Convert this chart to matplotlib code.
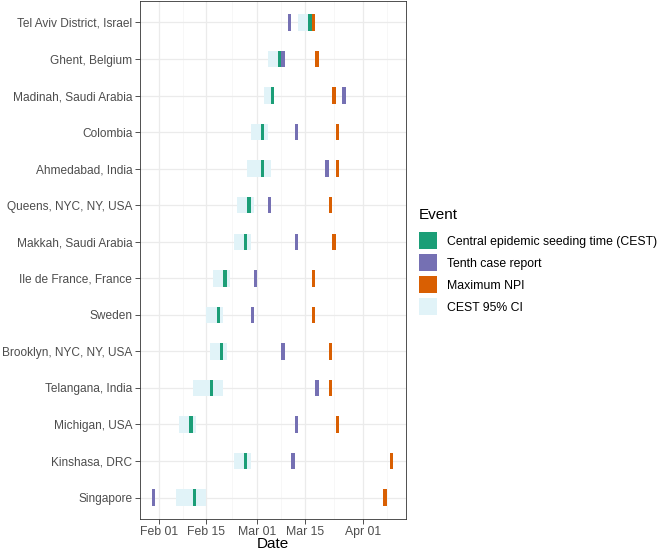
import matplotlib
matplotlib.use("Agg")
import matplotlib.pyplot as plt
import matplotlib.dates as mdates
from matplotlib.patches import Patch
import numpy as np
import datetime as dt

locations = ["Tel Aviv District, Israel", "Ghent, Belgium", "Madinah, Saudi Arabia",
             "Colombia", "Ahmedabad, India", "Queens, NYC, NY, USA",
             "Makkah, Saudi Arabia", "Ile de France, France", "Sweden",
             "Brooklyn, NYC, NY, USA", "Telangana, India", "Michigan, USA",
             "Kinshasa, DRC", "Singapore"]

cest = ["2020-03-16", "2020-03-07", "2020-03-05", "2020-03-02", "2020-03-02",
        "2020-02-27", "2020-02-26", "2020-02-20", "2020-02-18", "2020-02-19",
        "2020-02-16", "2020-02-10", "2020-02-26", "2020-02-11"]
tenth_case = ["2020-03-10", "2020-03-08", "2020-03-26", "2020-03-12", "2020-03-21",
              "2020-03-04", "2020-03-12", "2020-02-29", "2020-02-28", "2020-03-08",
              "2020-03-18", "2020-03-12", "2020-03-11", "2020-01-30"]
max_npi = ["2020-03-17", "2020-03-18", "2020-03-23", "2020-03-24", "2020-03-24",
           "2020-03-22", "2020-03-23", "2020-03-17", "2020-03-17", "2020-03-22",
           "2020-03-22", "2020-03-24", "2020-04-09", "2020-04-07"]
ci_low = ["2020-03-13", "2020-03-04", "2020-03-03", "2020-02-28", "2020-02-27",
          "2020-02-24", "2020-02-23", "2020-02-17", "2020-02-15", "2020-02-16",
          "2020-02-11", "2020-02-07", "2020-02-23", "2020-02-06"]
ci_high = ["2020-03-18", "2020-03-08", "2020-03-06", "2020-03-04", "2020-03-05",
           "2020-02-29", "2020-02-28", "2020-02-22", "2020-02-20", "2020-02-21",
           "2020-02-20", "2020-02-12", "2020-02-28", "2020-02-15"]

legend_labels = ["Central epidemic seeding time (CEST)", "Tenth case report",
                 "Maximum NPI", "CEST 95% CI"]
colors = ["#1B9E77", "#7570B3", "#D95F02", "#E1F3F8"]
x_ticks = ["2020-02-01", "2020-02-15", "2020-03-01", "2020-03-15", "2020-04-01"]

def num(lst):
    return np.array([mdates.date2num(dt.date.fromisoformat(s)) for s in lst])

plt.rcParams['font.family'] = ['Liberation Sans', 'DejaVu Sans']

fig = plt.figure(figsize=(6.61, 5.5), dpi=100)
ax = fig.add_axes([0.2118, 0.0555, 0.4017, 0.9435])

y = np.arange(len(locations))
h = 0.45

lo, hi = num(ci_low), num(ci_high)
ax.barh(y, hi - lo, left=lo, height=h, color=colors[3], zorder=2)
for series, col in zip([cest, tenth_case, max_npi], colors[:3]):
    ax.barh(y, 1.0, left=num(series), height=h, color=col, zorder=3)

allx = np.concatenate([num(cest), num(tenth_case), num(max_npi), lo, hi])
xmin, xmax = allx.min(), allx.max() + 1
pad = 0.05 * (xmax - xmin)
x0, x1 = xmin - pad, xmax + pad

major = num(x_ticks)
ext = np.concatenate([[mdates.date2num(dt.date(2020, 1, 15))], major,
                      [mdates.date2num(dt.date(2020, 4, 15))]])
minor = (ext[:-1] + ext[1:]) / 2
minor = minor[(minor > x0) & (minor < x1)]

ax.set_xticks(major)
ax.set_xticklabels([dt.date.fromisoformat(s).strftime("%b %d") for s in x_ticks])
ax.set_yticks(y)
ax.set_yticklabels(locations)

for v in major:
    ax.axvline(v, color="#EBEBEB", lw=0.9, zorder=0)
for v in minor:
    ax.axvline(v, color="#F4F4F4", lw=0.5, zorder=0)
for v in y:
    ax.axhline(v, color="#EBEBEB", lw=0.9, zorder=0)

ax.set_xlim(x0, x1)
ax.set_ylim(len(locations) - 0.4, -0.6)

ax.tick_params(axis="both", which="major", length=3.5, width=0.6, color="#333333",
               labelsize=8.8, labelcolor="#4D4D4D", pad=2)
ax.tick_params(axis="x", pad=1.2)
ax.tick_params(axis="y", labelsize=8.6)
for sp in ax.spines.values():
    sp.set_color("#333333")
    sp.set_linewidth(0.6)

ax.set_xlabel("Date", fontsize=11, labelpad=-1)

handles = [Patch(facecolor=c, edgecolor="none") for c in colors]
leg = fig.legend(handles, legend_labels, title="Event", loc="center left",
                 bbox_to_anchor=(0.634, 0.524), frameon=False, fontsize=8.8,
                 title_fontsize=11, handlelength=1.47, handleheight=1.76,
                 handletextpad=0.8, labelspacing=0.41, borderaxespad=0,
                 borderpad=0)
leg._legend_box.align = "left"
leg._legend_box.sep = 7

fig.savefig("out.png", dpi=100)
